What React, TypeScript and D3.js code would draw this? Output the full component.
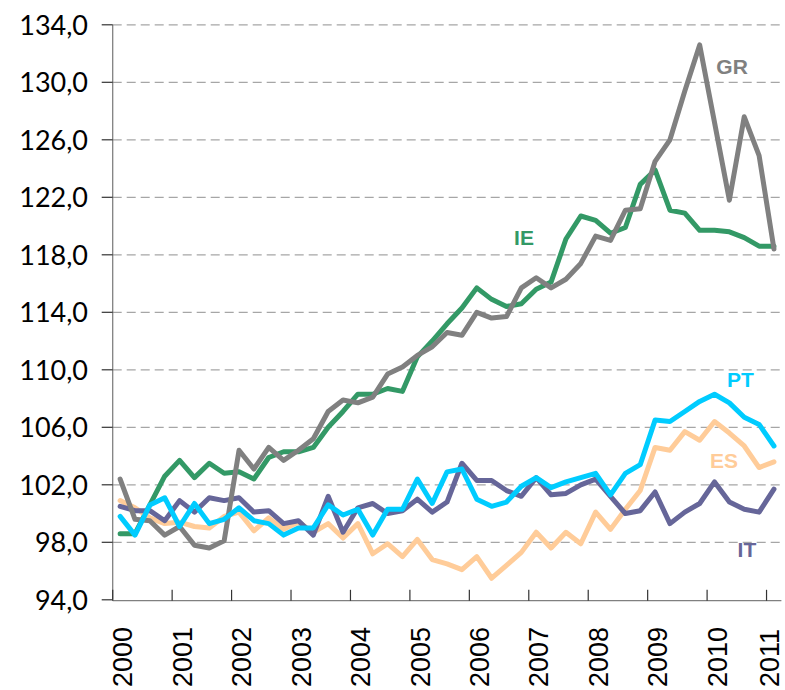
import React from "react";
import * as d3 from "d3";

const years = ["2000","2001","2002","2003","2004","2005","2006","2007","2008","2009","2010","2011"];
const yTicks = [94, 98, 102, 106, 110, 114, 118, 122, 126, 130, 134];

const GR = [102.4,99.6,99.5,98.5,99.1,97.8,97.6,98.1,104.4,103.1,104.6,103.7,104.4,105.2,107.1,107.9,107.7,108.1,109.7,110.2,111.0,111.6,112.6,112.4,114.0,113.6,113.7,115.7,116.4,115.7,116.3,117.4,119.3,119.0,121.1,121.2,124.5,126.0,129.4,132.6,127.2,121.8,127.6,124.9,118.4];
const IE = [98.6,98.6,100.6,102.6,103.7,102.5,103.5,102.8,102.9,102.4,103.9,104.3,104.3,104.6,106.0,107.1,108.3,108.3,108.7,108.5,110.9,112.0,113.2,114.3,115.7,114.9,114.4,114.6,115.6,116.1,119.1,120.7,120.4,119.5,119.9,122.9,123.9,121.1,120.9,119.7,119.7,119.6,119.2,118.6,118.6];
const PT = [99.8,98.5,100.6,101.1,99.1,100.7,99.3,99.6,100.4,99.5,99.3,98.5,99.0,99.0,100.6,99.9,100.3,98.5,100.3,100.3,102.4,100.7,102.9,103.1,101.0,100.5,100.8,101.9,102.5,101.8,102.2,102.5,102.8,101.3,102.8,103.4,106.5,106.4,107.1,107.8,108.3,107.7,106.7,106.2,104.7];
const IT = [100.5,100.2,100.2,99.5,100.9,100.1,101.1,100.9,101.1,100.1,100.2,99.3,99.5,98.5,101.2,98.7,100.4,100.7,100.0,100.2,101.0,100.1,100.8,103.5,102.3,102.3,101.6,101.2,102.5,101.3,101.4,102.0,102.4,101.2,100.0,100.2,101.5,99.3,100.1,100.7,102.2,100.8,100.3,100.1,101.7];
const ES = [100.9,100.4,99.7,99.3,99.4,99.1,99.0,99.8,100.1,98.8,99.7,98.9,99.4,98.7,99.3,98.3,99.3,97.2,97.9,97.0,98.2,96.8,96.5,96.1,97.0,95.5,96.4,97.3,98.7,97.6,98.7,97.9,100.1,98.9,100.3,101.6,104.6,104.4,105.7,105.1,106.4,105.6,104.7,103.2,103.6];

const seriesNames = ["IE", "ES", "IT", "GR", "PT"];
const seriesValues: Record<string, number[]> = { IE, ES, IT, GR, PT };
const seriesColors: Record<string, string> = {
  GR: "#808080",
  IE: "#339966",
  PT: "#00ccff",
  ES: "#ffcc99",
  IT: "#666699",
};
// label anchor in data coordinates: [quarter index position, value]
const labelPos: Record<string, [number, number]> = {
  GR: [41.68, 131.13],
  IE: [27.68, 119.24],
  PT: [42.25, 109.36],
  ES: [41.14, 103.66],
  IT: [42.68, 97.53],
};

const W = 785;
const H = 690;
const left = 112.7;
const right = 781.4;
const top = 24.8;
const bottom = 599.8;

export default function App() {
  const nQ = GR.length;
  const x = d3.scaleLinear().domain([0, nQ]).range([left, right]);
  const y = d3.scaleLinear().domain([94, 134]).range([bottom, top]);
  const line = d3
    .line<number>()
    .x((_, i) => x(i + 0.5))
    .y((d) => y(d));

  return (
    <div style={{ position: "absolute", left: 0, top: 0 }}>
      <svg width={W} height={H} style={{ display: "block", background: "#fff" }}>
        {/* gridlines */}
        {yTicks.slice(1).map((t) => (
          <line
            key={"g" + t}
            x1={left}
            x2={right}
            y1={y(t)}
            y2={y(t)}
            stroke="#a6a6a6"
            strokeWidth={1.2}
            strokeDasharray="9,5"
          />
        ))}
        {/* y axis */}
        <line x1={left} x2={left} y1={top} y2={bottom} stroke="#808080" strokeWidth={1.3} />
        {yTicks.map((t) => (
          <g key={"y" + t}>
            <line x1={left - 11} x2={left} y1={y(t)} y2={y(t)} stroke="#333" strokeWidth={1.2} />
            <text
              x={88}
              y={y(t)}
              dy="0.36em"
              textAnchor="end"
              fontFamily="Lato, 'Open Sans', sans-serif"
              fontSize={27}
              fill="#000"
            >
              {t.toFixed(1).replace(".", ",")}
            </text>
          </g>
        ))}
        {/* x axis */}
        <line x1={left} x2={right} y1={bottom + 0.9} y2={bottom + 0.9} stroke="#808080" strokeWidth={1.3} />
        {years.map((yr, k) => (
          <g key={yr}>
            <line
              x1={x(k * 4)}
              x2={x(k * 4)}
              y1={bottom - 10}
              y2={bottom + 1}
              stroke="#333"
              strokeWidth={1.2}
            />
            <text
              transform={`translate(${Math.min(x(k * 4 + 0.5) + 2.5, 769)},687) rotate(-90)`}
              dy="0.36em"
              textAnchor="start"
              fontFamily="'Liberation Sans', Arial, sans-serif"
              fontSize={27}
              fill="#000"
            >
              {yr}
            </text>
          </g>
        ))}
        {/* series */}
        {seriesNames.map((name) => (
          <path
            key={name}
            d={line(seriesValues[name]) || ""}
            fill="none"
            stroke={seriesColors[name]}
            strokeWidth={5}
            strokeLinejoin="round"
            strokeLinecap="round"
          />
        ))}
        {seriesNames.map((name) => (
          <text
            key={"l" + name}
            x={x(labelPos[name][0])}
            y={y(labelPos[name][1])}
            dy="0.36em"
            textAnchor="middle"
            fontFamily="'Liberation Sans', Arial, sans-serif"
            fontWeight="bold"
            fontSize={21}
            fill={seriesColors[name]}
          >
            {name}
          </text>
        ))}
      </svg>
    </div>
  );
}
